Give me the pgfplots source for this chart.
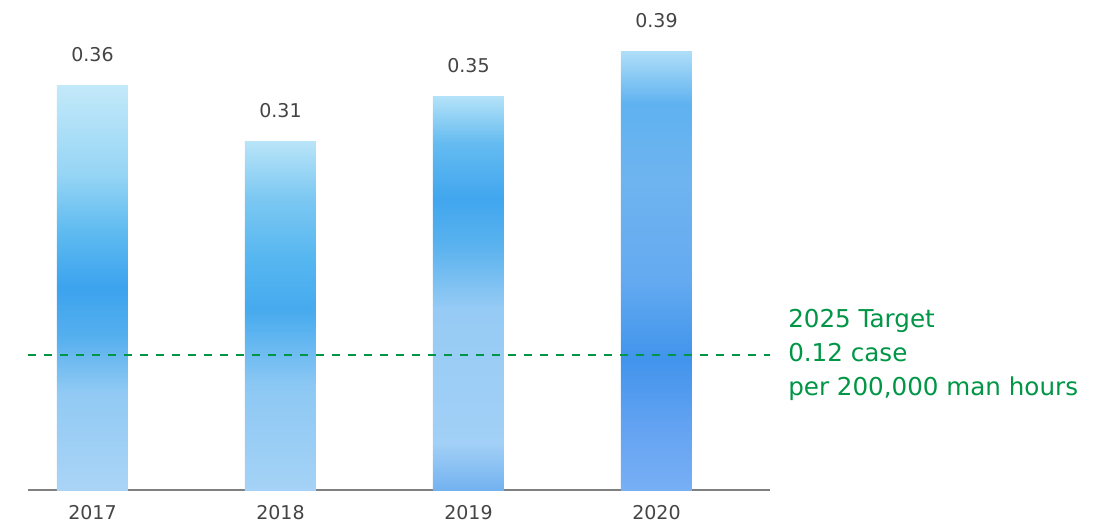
\documentclass[border=0pt]{standalone}
\usepackage{pgfplots}
\pgfplotsset{compat=1.18}
\usepackage{fontspec}
\setmainfont{DejaVu Sans}
\definecolor{txtgray}{RGB}{68,68,68}
\definecolor{tgtgreen}{RGB}{0,150,70}
% watercolour-like stops, bottom to top
\definecolor{a0}{RGB}{170,212,246}\definecolor{a1}{RGB}{145,202,244}
\definecolor{a2}{RGB}{85,175,238}\definecolor{a3}{RGB}{60,163,238}
\definecolor{a4}{RGB}{95,187,240}\definecolor{a5}{RGB}{150,213,245}
\definecolor{a6}{RGB}{195,233,249}
\definecolor{b0}{RGB}{165,210,246}\definecolor{b1}{RGB}{140,200,244}
\definecolor{b2}{RGB}{70,170,238}\definecolor{b3}{RGB}{85,182,240}
\definecolor{b4}{RGB}{125,200,242}\definecolor{b5}{RGB}{185,228,248}
\definecolor{c0}{RGB}{115,178,240}\definecolor{c1}{RGB}{162,208,246}
\definecolor{c2}{RGB}{150,203,245}\definecolor{c3}{RGB}{90,178,238}
\definecolor{c4}{RGB}{65,166,238}\definecolor{c5}{RGB}{100,187,240}
\definecolor{c6}{RGB}{180,226,248}
\definecolor{d0}{RGB}{120,175,245}\definecolor{d1}{RGB}{100,163,242}
\definecolor{d2}{RGB}{65,148,236}\definecolor{d3}{RGB}{100,170,240}
\definecolor{d4}{RGB}{110,180,240}\definecolor{d5}{RGB}{95,178,240}
\definecolor{d6}{RGB}{175,222,248}
\pgfdeclareverticalshading{wcA}{100bp}{color(0bp)=(a0); color(25bp)=(a0); color(37bp)=(a1);
  color(44bp)=(a2); color(50bp)=(a3); color(57bp)=(a4); color(64bp)=(a5); color(75bp)=(a6); color(100bp)=(a6)}
\pgfdeclareverticalshading{wcB}{100bp}{color(0bp)=(b0); color(25bp)=(b0); color(40bp)=(b1);
  color(51bp)=(b2); color(58bp)=(b3); color(67bp)=(b4); color(75bp)=(b5); color(100bp)=(b5)}
\pgfdeclareverticalshading{wcC}{100bp}{color(0bp)=(c0); color(25bp)=(c0); color(31bp)=(c1);
  color(48bp)=(c2); color(56bp)=(c3); color(62bp)=(c4); color(69bp)=(c5); color(75bp)=(c6); color(100bp)=(c6)}
\pgfdeclareverticalshading{wcD}{100bp}{color(0bp)=(d0); color(25bp)=(d0); color(32bp)=(d1);
  color(40bp)=(d2); color(49bp)=(d3); color(60bp)=(d4); color(69bp)=(d5); color(75bp)=(d6); color(100bp)=(d6)}

\begin{document}
\begin{tikzpicture}
\useasboundingbox (0,0) rectangle (555pt,263pt);
\begin{axis}[
    at={(14pt,18pt)}, anchor=south west,
    scale only axis,
    width=371pt, height=225pt,
    xmin=-0.343, xmax=3.604,
    ymin=0, ymax=0.4,
    axis x line=bottom, axis y line=none,
    axis line style={gray, line width=0.8pt, -},
    xtick={0,1,2,3}, xticklabels={2017,2018,2019,2020},
    major tick length=0pt,
    xticklabel style={font=\fontsize{9.5}{11}\selectfont, text=txtgray, yshift=-4pt},
    clip=false,
    ybar, bar width=35.5pt, bar shift=0pt,
    nodes near coords,
    every node near coord/.append style={font=\fontsize{9.5}{11}\selectfont, text=txtgray, yshift=8pt},
    point meta=explicit symbolic,
]
\addplot[draw=none, shading=wcA] coordinates {(0,0.36)[0.36]};
\addplot[draw=none, shading=wcB] coordinates {(1,0.31)[0.31]};
\addplot[draw=none, shading=wcC] coordinates {(2,0.35)[0.35]};
\addplot[draw=none, shading=wcD] coordinates {(3,0.39)[0.39]};

\draw[tgtgreen, line width=1.3pt, dash pattern=on 4pt off 4pt] (axis cs:-0.343,0.12) -- (axis cs:3.604,0.12);

\node[anchor=west, align=left, inner sep=0pt, text=tgtgreen, font=\fontsize{12.3}{17}\selectfont]
  at (axis cs:3.699,0.12) {2025 Target\\0.12 case\\per 200,000 man hours};
\end{axis}
\end{tikzpicture}
\end{document}
